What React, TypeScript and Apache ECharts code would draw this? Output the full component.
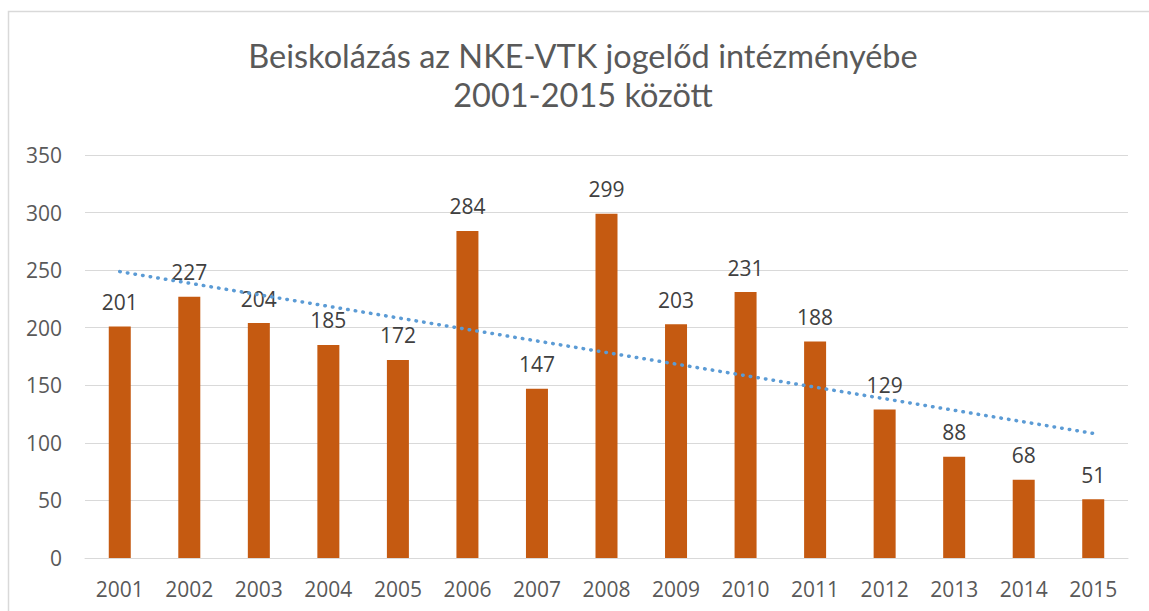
import React, { useEffect, useRef } from "react";
import * as echarts from "echarts";

const years = ["2001","2002","2003","2004","2005","2006","2007","2008","2009","2010","2011","2012","2013","2014","2015"];
const enrolled = [201, 227, 204, 185, 172, 284, 147, 299, 203, 231, 188, 129, 88, 68, 51];
// linear trendline end points
const trendStart = 248.7;
const trendEnd = 108.2;
const yTicks = { min: 0, max: 350, interval: 50 };
const titleLines = ["Beiskolázás az NKE-VTK jogelőd intézményébe", "2001-2015 között"];

const FONT = "'Open Sans', 'Noto Sans', sans-serif";
const TITLE_FONT = "Lato, 'Open Sans', sans-serif";

export default function App() {
  const ref = useRef<HTMLDivElement>(null);
  useEffect(() => {
    if (!ref.current) return;
    const chart = echarts.init(ref.current, undefined, { renderer: "svg" });
    const trend = years.map((_, i) => (i === 0 ? trendStart : i === years.length - 1 ? trendEnd : null));
    const titleStyle = { fontFamily: TITLE_FONT, fontSize: 32.5, fontWeight: "normal", color: "#595959", lineHeight: 32.5 };
    chart.setOption({
      animation: false,
      backgroundColor: "#ffffff",
      title: [
        { text: titleLines[0], left: 583, top: 39, textAlign: "center", padding: 0, textStyle: titleStyle },
        { text: titleLines[1], left: 583, top: 78, textAlign: "center", padding: 0, textStyle: titleStyle },
      ],
      graphic: [
        {
          type: "rect",
          shape: { x: 8.5, y: 11.5, width: 1160, height: 640 },
          style: { fill: "none", stroke: "#D9D9D9", lineWidth: 1.5 },
          silent: true,
        },
      ],
      grid: { left: 85, right: 21, top: 155, bottom: 53, containLabel: false },
      xAxis: {
        type: "category",
        data: years,
        axisLine: { show: true, lineStyle: { color: "#D9D9D9", width: 1 } },
        axisTick: { show: false },
        axisLabel: { fontFamily: FONT, fontSize: 21, color: "#595959", margin: 20 },
      },
      yAxis: {
        type: "value",
        min: yTicks.min,
        max: yTicks.max,
        interval: yTicks.interval,
        axisLine: { show: false },
        axisTick: { show: false },
        splitLine: { lineStyle: { color: "#D9D9D9", width: 1 } },
        axisLabel: { fontFamily: FONT, fontSize: 21, color: "#595959", margin: 23 },
      },
      series: [
        {
          type: "bar",
          data: enrolled,
          barWidth: 22,
          itemStyle: { color: "#C55A11" },
          label: { show: true, position: "top", distance: 14, fontFamily: FONT, fontSize: 21, color: "#404040" },
        },
        {
          type: "line",
          data: trend,
          connectNulls: true,
          symbol: "none",
          z: 5,
          lineStyle: { color: "#5B9BD5", width: 3.5, type: [0.5, 7.2], cap: "round" },
        },
      ],
    });
    return () => chart.dispose();
  }, []);
  return <div ref={ref} style={{ position: "absolute", left: 0, top: 0, width: 1149, height: 611 }} />;
}
